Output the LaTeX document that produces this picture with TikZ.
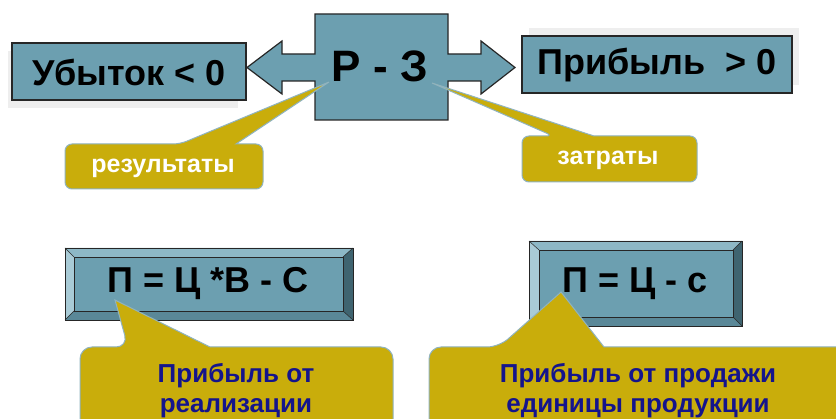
\documentclass[tikz,border=0pt]{standalone}
\usepackage{fontspec}
\setmainfont{Liberation Sans}
\definecolor{boxteal}{HTML}{6C9FB0}
\definecolor{gold}{HTML}{C9AD0B}
\definecolor{calloutedge}{HTML}{8FB3BF}
\definecolor{navy}{HTML}{14148C}
\definecolor{bevtop}{HTML}{8DB8C6}
\definecolor{bevleft}{HTML}{A9CBD6}
\definecolor{bevbot}{HTML}{5A8898}
\definecolor{bevright}{HTML}{3F6470}
\definecolor{shadowgray}{HTML}{EEEEEE}
\tikzset{
  tealbox/.style={draw=black!85, line width=1.2pt, fill=boxteal},
  shadowbox/.style={fill=shadowgray, draw=none},
  goldcallout/.style={draw=calloutedge, line width=1pt, fill=gold},
  bigtxt/.style={font=\bfseries\fontsize{36}{40}\selectfont, text=black, inner sep=0pt},
  hugetxt/.style={font=\bfseries\fontsize{44}{48}\selectfont, text=black, inner sep=0pt},
  whitetxt/.style={font=\bfseries\fontsize{25}{28}\selectfont, text=white, inner sep=0pt},
  navytxt/.style={font=\bfseries\fontsize{26}{30}\selectfont, text=navy, inner sep=0pt},
  bevline/.style={draw=black!85, line width=0.8pt},
}
\begin{document}
\begin{tikzpicture}[x=1pt,y=-1pt]
\useasboundingbox (0,0) rectangle (836,419);
\fill[white] (0,0) rectangle (836,419);

% shadows
\fill[shadowbox] (8,51) rectangle (238,108);
\fill[shadowbox] (529,28) rectangle (799,85);

% top boxes
\draw[tealbox] (12,43) rectangle (246,100);
\node[bigtxt] (loss) at (129,72) {Убыток < 0};
\draw[tealbox] (522,36) rectangle (792,93);
\node[bigtxt] (profit) at (657,65) {Прибыль\ \ > 0};

% central double arrow box
\draw[tealbox, line join=miter]
  (247,67.5) -- (282,41) -- (282,54) -- (315,54) -- (315,14) -- (448,14)
  -- (448,54) -- (481,54) -- (481,41) -- (515,67.5) -- (481,94) -- (481,81)
  -- (448,81) -- (448,120) -- (315,120) -- (315,81) -- (282,81) -- (282,94) -- cycle;
\node[hugetxt] (rz) at (380,66) {Р - З};

% callouts top
\coordinate (tipR) at (329,82);
\draw[goldcallout] (180,144) [sharp corners] -- (tipR) -- (236,144)
  [rounded corners=7] -- (263,144) -- (263,189) -- (65,189) -- (65,144) -- cycle;
\node[whitetxt] (res) at (163,168) {результаты};

\coordinate (tipZ) at (432,83);
\draw[goldcallout] (553,136) [sharp corners] -- (tipZ) -- (594,136)
  [rounded corners=7] -- (697,136) -- (697,182) -- (522,182) -- (522,136) -- cycle;
\node[whitetxt] (cost) at (608,160) {затраты};

% bevel box 1
\fill[bevtop] (65,248) -- (353,248) -- (343,257) -- (74,257) -- cycle;
\fill[bevleft] (65,248) -- (74,257) -- (74,311) -- (65,320) -- cycle;
\fill[bevbot] (65,320) -- (74,311) -- (343,311) -- (353,320) -- cycle;
\fill[bevright] (353,248) -- (353,320) -- (343,311) -- (343,257) -- cycle;
\draw[bevline, fill=boxteal] (74,257) rectangle (343,311);
\draw[bevline] (65,248) rectangle (353,320);
\draw[bevline, line width=0.5pt] (65,248) -- (74,257) (353,248) -- (343,257) (65,320) -- (74,311) (353,320) -- (343,311);
\node[bigtxt] (f1) at (208,284) {П = Ц *В - С};

% bevel box 2
\fill[bevtop] (529,241) -- (742,241) -- (733,250) -- (539,250) -- cycle;
\fill[bevleft] (529,241) -- (539,250) -- (539,317) -- (529,326) -- cycle;
\fill[bevbot] (529,326) -- (539,317) -- (733,317) -- (742,326) -- cycle;
\fill[bevright] (742,241) -- (742,326) -- (733,317) -- (733,250) -- cycle;
\draw[bevline, fill=boxteal] (539,250) rectangle (733,317);
\draw[bevline] (529,241) rectangle (742,326);
\draw[bevline, line width=0.5pt] (529,241) -- (539,250) (742,241) -- (733,250) (529,326) -- (539,317) (742,326) -- (733,317);
\node[bigtxt] (f2) at (635,284) {П = Ц - с};

% bottom callouts
\coordinate (tipA) at (115,300);
\draw[goldcallout] (128,347) [sharp corners] -- (tipA) -- (210,347)
  [rounded corners=12] -- (393,347) -- (393,460) -- (80,460) -- (80,347) -- cycle;
\node[navytxt, anchor=base] (pa1) at (236,383) {Прибыль от};
\node[navytxt, anchor=base] (pa2) at (236,413) {реализации};

\coordinate (tipB) at (561,292);
\draw[goldcallout] (499,347) [sharp corners] -- (tipB) -- (604,347)
  [rounded corners=12] -- (860,347) -- (860,460) -- (429,460) -- (429,347) -- cycle;
\node[navytxt, anchor=base] (pb1) at (638,383) {Прибыль от продажи};
\node[navytxt, anchor=base] (pb2) at (638,413) {единицы продукции};
\end{tikzpicture}
\end{document}
